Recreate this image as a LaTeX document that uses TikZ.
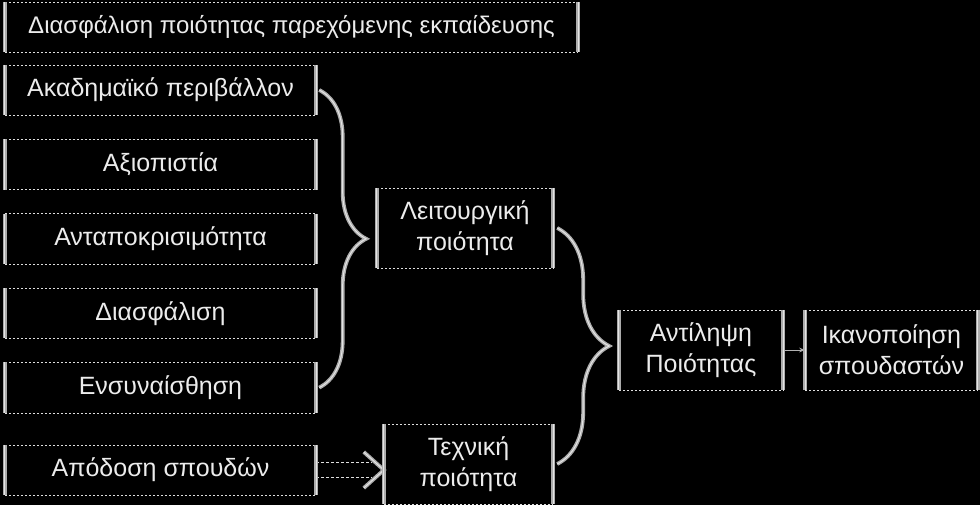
\documentclass[tikz,border=0pt]{standalone}
\usepackage{fontspec}
\setmainfont{Liberation Sans}
\usetikzlibrary{positioning, decorations.pathreplacing, calc, arrows.meta}
\tikzset{
    qbox/.style={minimum height=50pt, inner sep=0pt, align=center, text=gray!15,
        font=\fontsize{25}{31}\selectfont},
    leftbox/.style={qbox, minimum width=311pt},
    bigbox/.style={qbox, minimum height=80pt},
    pipe/.style={draw=gray!65, line width=1.4pt, double=gray!20, double distance=1pt},
    rim/.style={draw=white!75!gray, line width=0.5pt, dash pattern=on 2pt off 2pt},
    bracepipe/.style={pipe, decorate, decoration={brace, amplitude=#1}},
    rail/.style={draw=white!75!gray, line width=0.6pt, double=black, double distance=14pt,
        dash pattern=on 3pt off 2pt}
}
\begin{document}
\begin{tikzpicture}[x=1pt, y=1pt, node distance=24pt]
  \fill[black] (0,0) rectangle (980,-505);
  \useasboundingbox (0,0) rectangle (980,-505);

  \node(T)[qbox, minimum width=573pt, font=\fontsize{24}{30}\selectfont] at (291.5,-27) {Διασφάλιση ποιότητας παρεχόμενης εκπαίδευσης};

  \node(AK)[leftbox] at (160.5,-90) {Ακαδημαϊκό περιβάλλον};
  \node(AX)[leftbox, below=of AK]{Αξιοπιστία};
  \node(AN)[leftbox, below=of AX]{Ανταποκρισιμότητα};
  \node(DI)[leftbox, below=of AN]{Διασφάλιση};
  \node(EN)[leftbox, below=of DI]{Ενσυναίσθηση};
  \node(AP)[leftbox, below=32pt of EN]{Απόδοση σπουδών};

  \node(LQ)[bigbox, minimum width=176pt] at (465,-228) {Λειτουργική\\ποιότητα};
  \node(TQ)[bigbox, minimum width=169pt] at (468.5,-464) {Τεχνική\\ποιότητα};

  \node(AQ)[bigbox, minimum width=164pt] at (701,-350) {Αντίληψη\\Ποιότητας};
  \node(SS)[bigbox, minimum width=172pt, right=22pt of AQ]{Ικανοποίηση\\σπουδαστών};

  \draw[bracepipe=47pt]($(AK.east)+(3,0)$)--($(EN.east)+(3,0)$);
  \draw[bracepipe=52pt]($(LQ.east)+(4,0)$)--($(TQ.east)+(4,0)$);

  \coordinate(tipT) at (AP.east -| TQ.west);
  \draw[rail](AP.east)--($(tipT)+(-12,0)$);
  \draw[pipe]($(tipT)+(-20,18)$)--(tipT)--($(tipT)+(-20,-18)$);

  \draw[gray!60, line width=1pt, -{Stealth[length=6pt]}](AQ.east)--(SS.west);

  % frames
  \foreach \n in {T,AK,AX,AN,DI,EN,AP,LQ,TQ,AQ,SS}{
    \draw[rim](\n.north west)--(\n.north east);
    \draw[rim](\n.south west)--(\n.south east);
    \draw[pipe](\n.north west)--(\n.south west);
    \draw[pipe](\n.north east)--(\n.south east);
  }
\end{tikzpicture}
\end{document}
